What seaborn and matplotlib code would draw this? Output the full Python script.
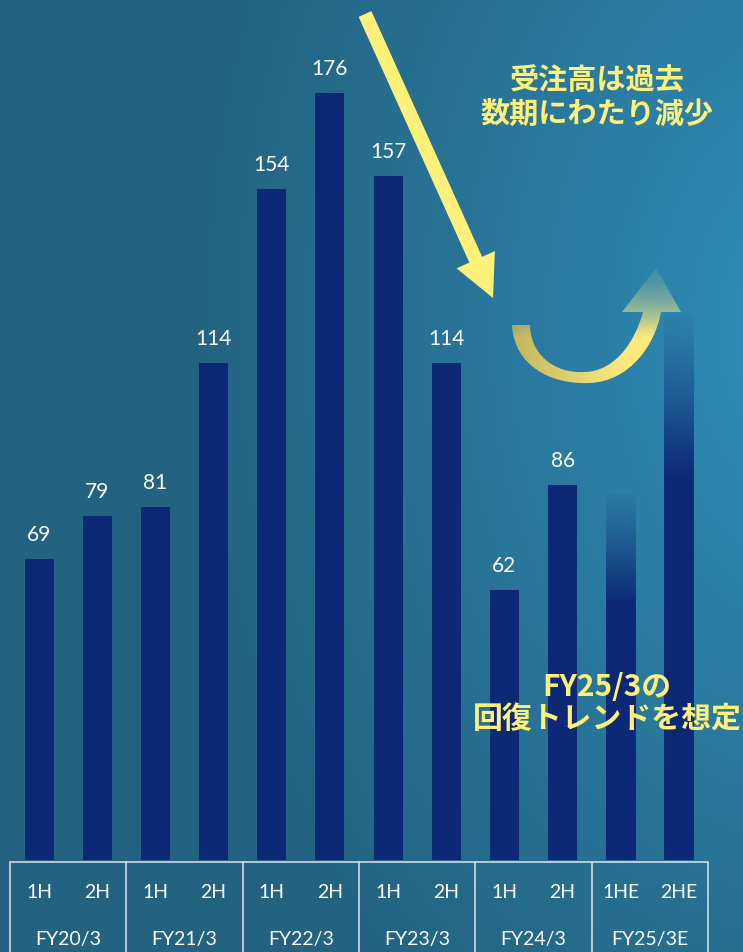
import numpy as np
import pandas as pd
import matplotlib
matplotlib.use("Agg")
import matplotlib.pyplot as plt
import matplotlib.transforms as mtransforms
from matplotlib.path import Path
from matplotlib.patches import PathPatch, FancyArrow
import seaborn as sns

# ---- data -------------------------------------------------------------
fiscal_years = ["FY20/3", "FY21/3", "FY22/3", "FY23/3", "FY24/3", "FY25/3E"]
halves = ["1H", "2H", "1H", "2H", "1H", "2H", "1H", "2H", "1H", "2H", "1HE", "2HE"]
orders = [69, 79, 81, 114, 154, 176, 157, 114, 62, 86, 84, 125]
is_forecast = [False] * 10 + [True] * 2

note_down = "受注高は過去\n数期にわたり減少"
note_up = "FY25/3の\n回復トレンドを想定"

# ---- style ------------------------------------------------------------
NAVY = "#0c2876"
YELLOW = "#fff07a"
LINE = "#d2dae2"
plt.rcParams["font.family"] = ["Lato", "Noto Sans CJK JP", "DejaVu Sans"]

W, H = 743, 952
fig = plt.figure(figsize=(W / 100, H / 100), dpi=100)

# background: radial teal glow toward the right
bg = fig.add_axes([0, 0, 1, 1], zorder=0)
yy, xx = np.mgrid[0:H, 0:W]
d = np.sqrt((xx - 820.0) ** 2 + ((yy - 330.0) * 0.7) ** 2)
t = np.clip(1 - d / 650.0, 0, 1) ** 1.1
c0 = np.array([35, 98, 128]) / 255
c1 = np.array([48, 144, 188]) / 255
img = c0[None, None, :] * (1 - t[..., None]) + c1[None, None, :] * t[..., None]
bg.imshow(img, extent=(0, W, H, 0), aspect="auto", interpolation="bilinear")
bg.set_xlim(0, W)
bg.set_ylim(H, 0)
bg.axis("off")

# ---- bars -------------------------------------------------------------
df = pd.DataFrame({
    "period": [f"{fy} {h}" for fy in fiscal_years for h in ("a", "b")],
    "orders": orders,
})
ax = fig.add_axes([10 / W, (H - 860) / H, 698 / W, 860 / H], zorder=1)
ax.set_facecolor("none")
sns.barplot(data=df, x="period", y="orders", color=NAVY, saturation=1,
            width=0.5, ax=ax, errorbar=None)
ax.set_xlim(-0.5, len(orders) - 0.5)
ax.set_ylim(0, 860 / 4.358)
for s in ax.spines.values():
    s.set_visible(False)
ax.set_xticks([])
ax.set_yticks([])
ax.set_xlabel("")
ax.set_ylabel("")

# forecast bars fade in from the top
for patch, val, fc in zip(ax.patches, orders, is_forecast):
    if not fc:
        continue
    x0 = patch.get_x()
    x1 = x0 + patch.get_width()
    n = 200
    f = np.linspace(0, 1, n)
    alpha = 0.04 + 0.96 * np.clip(f / 0.30, 0, 1) ** 1.2
    grad = np.zeros((n, 1, 4))
    grad[..., :3] = matplotlib.colors.to_rgb(NAVY)
    grad[:, 0, 3] = alpha
    im = ax.imshow(grad, extent=(x0, x1, 0, val), origin="upper",
                   aspect="auto", interpolation="bilinear", zorder=2)
    im.set_clip_path(patch)
    patch.set_facecolor("none")
    patch.set_edgecolor("none")
ax.set_xlim(-0.5, len(orders) - 0.5)
ax.set_ylim(0, 860 / 4.358)

# value labels on actual results
for i, (val, fc) in enumerate(zip(orders, is_forecast)):
    if fc:
        continue
    ax.annotate(f"{val}", (i, val), xytext=(0, 13), textcoords="offset points",
                ha="center", va="baseline", color="white", fontsize=15)

# ---- category table under the axis -----------------------------------
tr = mtransforms.blended_transform_factory(ax.transData, ax.transAxes)
y_top = -2 / 860
y_bot = -92 / 860
n = len(orders)
ax.plot([-0.5, n - 0.5], [y_top, y_top], transform=tr, color=LINE, lw=1.2,
        clip_on=False, solid_capstyle="butt")
for b in np.arange(-0.5, n, 2):
    ax.plot([b, b], [y_top, y_bot], transform=tr, color=LINE, lw=1.2,
            clip_on=False)
for i, h in enumerate(halves):
    ax.text(i, -33 / 860, h, transform=tr, ha="center", va="center",
            color="white", fontsize=14)
for g, fy in enumerate(fiscal_years):
    ax.text(2 * g + 0.5, -80 / 860, fy, transform=tr, ha="center",
            va="center", color="white", fontsize=14)

# ---- callouts ---------------------------------------------------------
ov = fig.add_axes([0, 0, 1, 1], zorder=3)
ov.set_xlim(0, W)
ov.set_ylim(H, 0)
ov.axis("off")
ov.set_facecolor("none")

# straight downward arrow
ov.add_patch(FancyArrow(365, 14, 128, 284, width=14, head_width=42,
                        head_length=42, length_includes_head=True,
                        color=YELLOW, lw=0))

# U-turn arrow with a vertical fade toward its head
verts = [
    (512, 325),
    (514, 365), (550, 385), (590, 383),
    (630, 381), (655, 345), (661, 312),
    (681, 312), (656, 268), (622, 312), (643, 312),
    (635, 342), (615, 371), (585, 372),
    (552, 374), (530, 352), (530, 325),
    (512, 325),
]
codes = ([Path.MOVETO] + [Path.CURVE4] * 6 + [Path.LINETO] * 4
         + [Path.CURVE4] * 6 + [Path.CLOSEPOLY])
uturn = PathPatch(Path(verts, codes), facecolor="none", edgecolor="none")
ov.add_patch(uturn)
gy, gx = np.mgrid[262:390, 505:690]
a = np.clip((gy - 262) / 75.0, 0, 1)
alpha = 0.12 + 0.88 * a ** 1.3
shade = 0.78 + 0.22 * np.clip((gx - 512) / 110.0, 0, 1)
rgba = np.zeros(gy.shape + (4,))
ycol = np.array(matplotlib.colors.to_rgb("#fbe97c"))
top_col = np.array(matplotlib.colors.to_rgb("#9fc3a0"))
mix = np.clip((330 - gy) / 60.0, 0, 1)[..., None]
rgb = ycol * (1 - mix) + top_col * mix
rgba[..., :3] = rgb * shade[..., None]
rgba[..., 3] = alpha
im = ov.imshow(rgba, extent=(505, 690, 390, 262), aspect="auto",
               interpolation="bilinear")
im.set_clip_path(uturn)
ov.set_xlim(0, W)
ov.set_ylim(H, 0)

ov.text(597, 97, note_down, ha="center", va="center", color=YELLOW,
        fontsize=21, fontweight="bold", linespacing=1.15,
        family=["Noto Sans CJK JP", "DejaVu Sans"])
ov.text(607, 703, note_up, ha="center", va="center", color=YELLOW,
        fontsize=21.5, fontweight="bold", linespacing=1.1,
        family=["Noto Sans CJK JP", "DejaVu Sans"])

fig.savefig("out.png", dpi=100)
